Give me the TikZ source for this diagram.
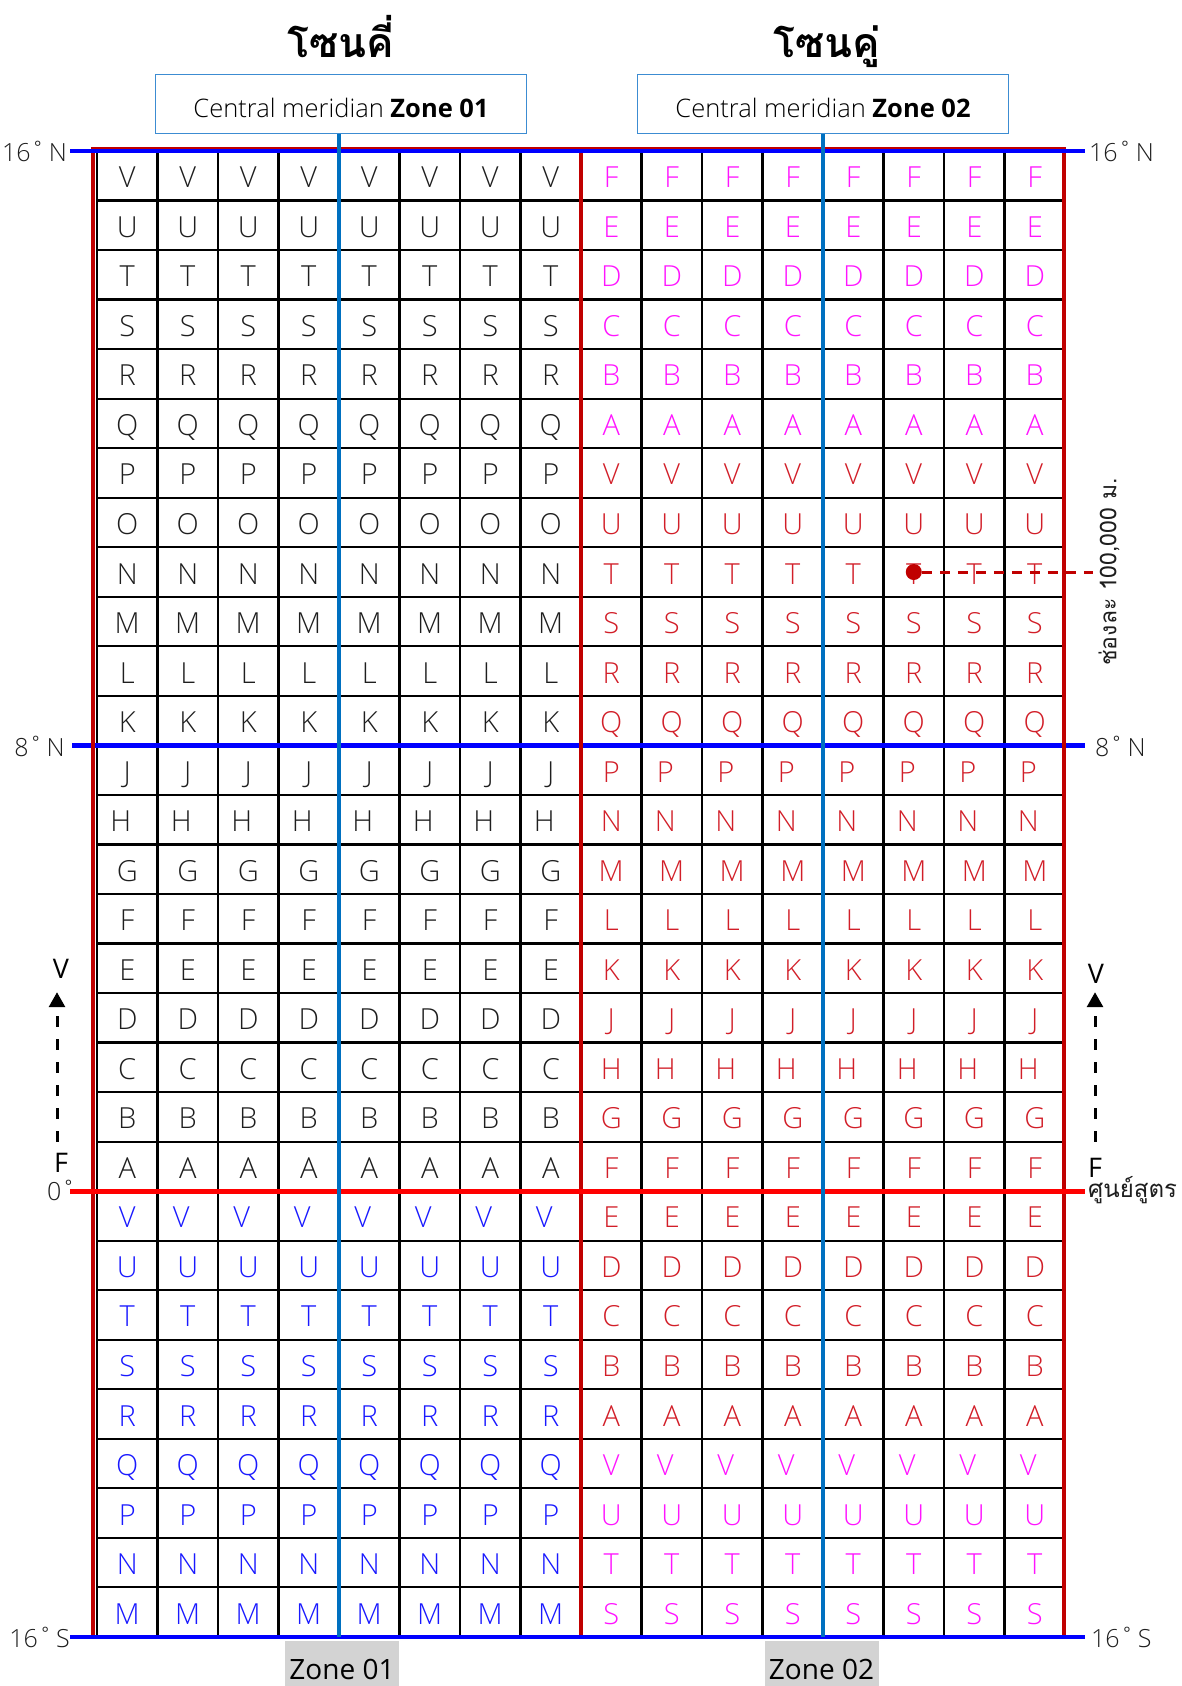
\documentclass[tikz,border=0pt]{standalone}
\usepackage{fontspec}
\setmainfont{Open Sans}
\newfontfamily\lightfont{Open Sans Light}
\newfontfamily\thaifont[Script=Thai]{Loma}
\usetikzlibrary{arrows.meta}
\definecolor{zred}{RGB}{192,0,0}
\definecolor{eqred}{RGB}{255,0,0}
\definecolor{latblue}{RGB}{0,0,255}
\definecolor{cmblue}{RGB}{0,112,192}
\definecolor{boxblue}{RGB}{60,140,210}
\definecolor{lmag}{RGB}{255,20,255}
\definecolor{lred}{RGB}{210,30,40}
\definecolor{lblue}{RGB}{25,25,255}
\definecolor{lblack}{RGB}{30,30,30}
\definecolor{zgray}{RGB}{211,211,211}
\tikzset{
  gridln/.style={line width=2.2pt, black},
  zoneln/.style={line width=4.5pt, zred},
  latln/.style={line width=4.5pt, latblue},
  eqln/.style={line width=5pt, eqred},
  merid/.style={line width=3.5pt, cmblue},
  lett/.style={anchor=base, inner sep=0pt, font=\lightfont\fontsize{29}{30}\selectfont},
  cmbox/.style={draw=boxblue, line width=1.5pt, fill=white, minimum width=371pt, minimum height=59pt, inner sep=0pt, text height=26pt, text depth=0pt, font=\fontsize{25.5}{27}\selectfont},
  ttl/.style={anchor=base, inner sep=0pt, font=\thaifont\bfseries\fontsize{41}{46}\selectfont},
  deglbl/.style={inner sep=0pt, text=lblack, font=\lightfont\fontsize{25}{26}\selectfont},
  arrlbl/.style={inner sep=0pt, anchor=base, text=black, font=\fontsize{27}{28}\selectfont},
  thailbl/.style={inner sep=0pt, text=lblack, font=\thaifont\fontsize{24}{26}\selectfont},
  zonetag/.style={fill=zgray, minimum width=114pt, minimum height=45pt, inner sep=0pt, text height=31pt, text depth=0pt, font=\fontsize{28}{30}\selectfont},
  dasharr/.style={line width=3pt, black, dash pattern=on 11pt off 12pt, -{Triangle[width=16pt,length=15pt]}},
  reddash/.style={line width=3pt, zred, dash pattern=on 10pt off 8pt},
  reddot/.style={circle, fill=zred, minimum size=16pt, inner sep=0pt}
}
\begin{document}
\begin{tikzpicture}[x=1pt,y=-1pt]
\useasboundingbox (0,0) rectangle (1181,1686);
\fill[white] (0,0) rectangle (1181,1686);

% grid
\foreach \c in {0,...,16} \draw[gridln] ({97+\c*60.5},149) -- ({97+\c*60.5},1637);
\foreach \r in {0,...,30} \draw[gridln] (97,{151+\r*49.53}) -- (1064,{151+\r*49.53});

% letters, zone 01
\foreach \r/\L/\cl/\sh in {0/V/lblack/0, 1/U/lblack/0, 2/T/lblack/0, 3/S/lblack/0, 4/R/lblack/0, 5/Q/lblack/0, 6/P/lblack/0, 7/O/lblack/0, 8/N/lblack/0, 9/M/lblack/0, 10/L/lblack/0, 11/K/lblack/0, 12/J/lblack/0, 13/H/lblack/2, 14/G/lblack/0, 15/F/lblack/0, 16/E/lblack/0, 17/D/lblack/0, 18/C/lblack/0, 19/B/lblack/0, 20/A/lblack/0, 21/V/lblue/1, 22/U/lblue/0, 23/T/lblue/0, 24/S/lblue/0, 25/R/lblue/0, 26/Q/lblue/0, 27/P/lblue/0, 28/N/lblue/0, 29/M/lblue/0}{
  \foreach \c in {0,...,7}{
    \pgfmathsetmacro\dx{((\sh==2) || ((\sh==1) && (\c>0))) ? -6.5 : 0}
    \node[lett, text=\cl] (L\r-\c) at ({127.25+\c*60.5+\dx},{151+(\r+0.5)*49.53+12}) {\L};
  }
}
% letters, zone 02
\foreach \r/\L/\cl/\sh in {0/F/lmag/0, 1/E/lmag/0, 2/D/lmag/0, 3/C/lmag/0, 4/B/lmag/0, 5/A/lmag/0, 6/V/lred/0, 7/U/lred/0, 8/T/lred/0, 9/S/lred/0, 10/R/lred/0, 11/Q/lred/0, 12/P/lred/1, 13/N/lred/1, 14/M/lred/0, 15/L/lred/0, 16/K/lred/0, 17/J/lred/0, 18/H/lred/1, 19/G/lred/0, 20/F/lred/0, 21/E/lred/0, 22/D/lred/0, 23/C/lred/0, 24/B/lred/0, 25/A/lred/0, 26/V/lmag/1, 27/U/lmag/0, 28/T/lmag/0, 29/S/lmag/0}{
  \foreach \c in {0,...,7}{
    \pgfmathsetmacro\dx{((\sh==2) || ((\sh==1) && (\c>0))) ? -6.5 : 0}
    \node[lett, text=\cl] (R\r-\c) at ({611.25+\c*60.5+\dx},{151+(\r+0.5)*49.53+12}) {\L};
  }
}

% zone frames (dark red)
\draw[zoneln] (93,149) rectangle (581,1637);
\draw[zoneln] (581,149) rectangle (1064,1637);

% latitude lines
\draw[latln] (70,151) -- (1085,151);
\draw[latln] (72,745.4) -- (1085,745.4);
\draw[latln] (70,1637) -- (1085,1637);
% red verticals over the 8N line
\draw[zoneln] (93,700) -- (93,790);
\draw[zoneln] (581,700) -- (581,790);
\draw[zoneln] (1064,700) -- (1064,790);
% equator
\draw[eqln] (70,1191) -- (1085,1191);

% titles
\node[ttl] (title1) at (341,58) {โซนคี่};
\node[ttl] (title2) at (827,58) {โซนคู่};

% central meridian boxes and lines
\node[cmbox] (box1) at (341,104) {{\lightfont Central meridian }\textbf{Zone 01}};
\node[cmbox] (box2) at (823,104) {{\lightfont Central meridian }\textbf{Zone 02}};
\coordinate (m1end) at (339,1637);
\coordinate (m2end) at (823,1637);
\draw[merid] (box1.south -| m1end) -- (m1end);
\draw[merid] (box2.south -| m2end) -- (m2end);

% latitude labels
\node[deglbl, anchor=base east] (n16l) at (67,161) {16˚\hspace{0.15em}N};
\node[deglbl, anchor=base west] (n16r) at (1089,161) {16˚\hspace{0.15em}N};
\node[deglbl, anchor=base east] (n8l) at (65,756) {8˚\hspace{0.15em}N};
\node[deglbl, anchor=base west] (n8r) at (1095,756) {8˚\hspace{0.15em}N};
\node[deglbl, anchor=base east] (s16l) at (70,1647) {16˚\hspace{0.15em}S};
\node[deglbl, anchor=base west] (s16r) at (1091,1647) {16˚\hspace{0.15em}S};
\node[deglbl, anchor=base east] (eq0) at (76,1200) {0˚};
\node[thailbl, anchor=base west] (eqth) at (1088,1197) {ศูนย์สูตร};

% F -> V arrows
\node[arrlbl, anchor=base west] (fL) at (54,1172) {F};
\node[arrlbl] (vL) at (61,978) {V};
\coordinate (aL) at (57,0);
\draw[dasharr, shorten <=11pt, shorten >=14pt] (fL.north -| aL) -- (vL.south -| aL);
\node[arrlbl, anchor=base west] (fR) at (1088,1177) {F};
\node[arrlbl] (vR) at (1096,983) {V};
\coordinate (aR) at (1095,0);
\draw[dasharr, shorten <=16pt, shorten >=9pt] (fR.north -| aR) -- (vR.south -| aR);

% 100 km spacing marker
\node[reddot] (dot) at ({611.25+5*60.5},{151+8.5*49.53}) {};
\coordinate (dend) at (1093,{151+8.5*49.53});
\draw[reddash] (dot.east) -- (dend);
\node[thailbl, rotate=90, font=\thaifont\fontsize{23}{25}\selectfont] (spacing) at (1109,572) {ช่องละ 100,000 ม.};

% zone tags at the bottom
\node[zonetag] (zt1) at (342,1663.5) {Zone 01};
\node[zonetag] (zt2) at (821.5,1663.5) {Zone 02};
\end{tikzpicture}
\end{document}
